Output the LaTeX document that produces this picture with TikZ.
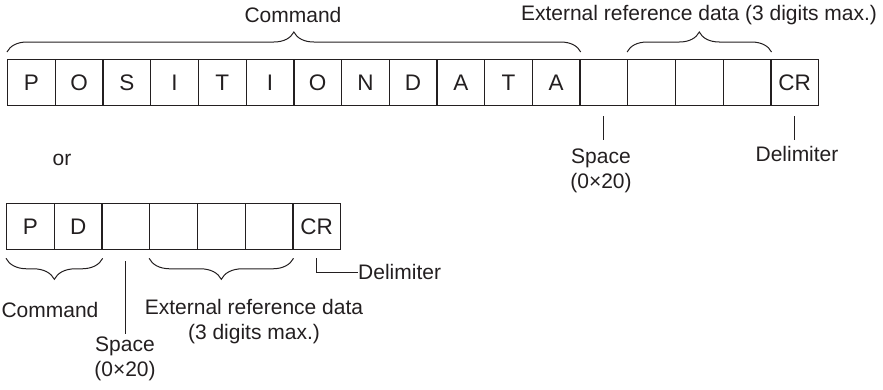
\documentclass[tikz,border=0pt]{standalone}
\usepackage{fontspec}
\setmainfont{Liberation Sans}
\usetikzlibrary{decorations.pathreplacing}
\definecolor{ink}{HTML}{231F20}
\begin{document}
\begin{tikzpicture}[x=1pt,y=-1pt,
  cell/.style={draw=ink, line width=1.3pt, minimum width=47.7pt, minimum height=46pt,
    inner sep=0pt, font=\fontsize{22.5}{26}\selectfont, text=ink, anchor=north west},
  lbl/.style={font=\fontsize{21}{25}\selectfont, text=ink, inner sep=0pt, align=center},
  brc/.style={decorate, decoration={brace, amplitude=20pt}, line width=1pt, draw=ink},
  lead/.style={line width=1pt, draw=ink}]
\useasboundingbox (0,0) rectangle (883,389);
% top row
\foreach \c [count=\i] in {P,O,S,I,T,I,O,N,D,A,T,A,{},{},{},{},CR}
  \node[cell] (t\i) at ({7+(\i-1)*47.7},59) {\c};
% bottom row
\foreach \c [count=\i] in {P,D,{},{},{},{},CR}
  \node[cell] (b\i) at ({6+(\i-1)*47.7},203) {\c};
% top labels
\node[lbl] (tcmd) at (293,15) {Command};
\node[lbl] (text) at (699,15) {External reference data (3 digits max.)};
\draw[brc] ([yshift=7pt]t1.north west) -- ([yshift=7pt]t12.north east);
\draw[brc] ([yshift=7pt]t14.north west) -- ([yshift=7pt]t16.north east);
\node[lbl] (tsp) at (601,171) {Space\\(0×20)};
\node[lbl] (tdel) at (797,154) {Delimiter};
\draw[lead] ([yshift=-10pt]t13.south) -- ([yshift=-34pt]t13.south);
\draw[lead] ([yshift=-10pt]t17.south) -- ([yshift=-34pt]t17.south);
\node[lbl] (or) at (62,160) {or};
% bottom labels
\draw[brc, decoration={amplitude=21pt}] ([yshift=-8pt]b2.south east) -- ([yshift=-8pt]b1.south west);
\draw[brc, decoration={amplitude=21pt}] ([yshift=-8pt]b6.south east) -- ([yshift=-8pt]b4.south west);
\node[lbl] (bcmd) at (50,310) {Command};
\node[lbl] (bext) at (254,322) {External reference data\\(3 digits max.)};
\node[lbl] (bsp) at (125,359) {Space\\(0×20)};
\draw[lead] ([yshift=-11pt]b3.south) -- ([yshift=3pt]b3.south |- bsp.north);
\node[lbl, anchor=west] (bdel) at (358,272) {Delimiter};
\coordinate (bc) at ([yshift=-8pt]b7.south);
\draw[lead] (bc) |- (bdel.west);
\end{tikzpicture}
\end{document}
